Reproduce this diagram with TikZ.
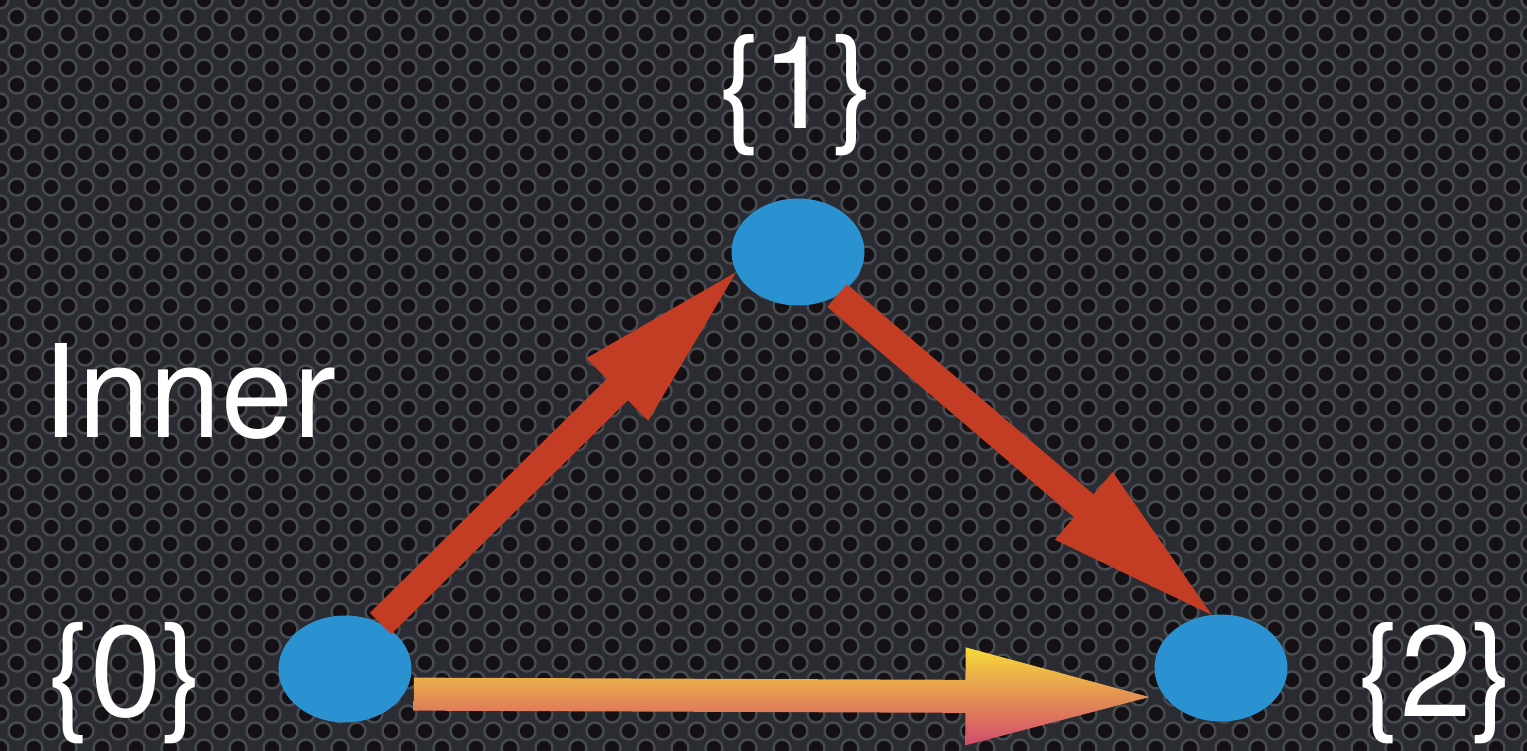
\documentclass[tikz,border=0pt]{standalone}
\usepackage{fontspec}
\setmainfont{TeX Gyre Heros}
\usetikzlibrary{shapes.geometric,calc}
\definecolor{plate}{HTML}{2A2C31}
\definecolor{ring}{HTML}{464A51}
\definecolor{hole}{HTML}{141013}
\definecolor{nodeblue}{HTML}{2A92D0}
\definecolor{arrowred}{HTML}{C33D25}
\definecolor{warmyellow}{HTML}{F6DA3A}
\definecolor{warmorange}{HTML}{E9A04E}
\definecolor{warmpink}{HTML}{D24A6C}
% fat arrow: style, tail, tip, shaft half width, head length, head half width
\newcommand{\fatarrow}[6]{%
  \coordinate (fa-b) at ($(#3)!#5!(#2)$);
  \path[#1] ($(#2)!#4!90:(#3)$) -- ($(fa-b)!#4!90:(#3)$) -- ($(fa-b)!#6!90:(#3)$)
    -- (#3) -- ($(fa-b)!#6!-90:(#3)$) -- ($(fa-b)!#4!-90:(#3)$) -- ($(#2)!#4!-90:(#3)$) -- cycle;}
\begin{document}
\begin{tikzpicture}[x=1pt,y=-1pt,
  vertex/.style={ellipse,fill=nodeblue,minimum width=133pt,minimum height=107pt,inner sep=0pt},
  setlabel/.style={text=white,font=\fontsize{129}{129}\selectfont,anchor=base,inner sep=0pt},
  redfill/.style={fill=arrowred},
  warmfill/.style={shade,top color=warmyellow,middle color=warmorange,bottom color=warmpink}]
  \useasboundingbox (0,0) rectangle (1527,751);
  \fill[plate] (0,0) rectangle (1527,751);
  % perforated plate
  \begin{scope}
    \clip (0,0) rectangle (1527,751);
    \foreach \i in {0,...,45}{
      \foreach \j in {0,...,45}{
        \pgfmathsetmacro\yy{17*\j}
        \pgfmathsetmacro\xx{34*\i+mod(\j,2)*17}
        \draw[ring,line width=2.5pt,fill=hole] (\xx,\yy) circle (8.5pt);
      }}
  \end{scope}
  % the three sets
  \node[vertex] (n1) at (798,252) {};
  \node[vertex] (n0) at (345,669) {};
  \node[vertex] (n2) at (1221,668) {};
  % arrows
  \fatarrow{redfill}{n0.52}{n1.198}{15pt}{167pt}{44pt}
  \fatarrow{redfill}{n1.-48}{n2.100}{15pt}{168pt}{44.5pt}
  \coordinate (w0) at ($(n0.-20)+(8,3)$);
  \coordinate (w2) at ($(n2.202)+(-12,5)$);
  \fatarrow{warmfill}{w0}{w2}{16.5pt}{184pt}{49pt}
  % labels
  \node[setlabel] (l1) at (797,129) {\{1\}};
  \node[setlabel,anchor=base west] (inner) at (42,438) {Inner};
  \node[setlabel] (l0) at (126,716) {\{0\}};
  \node[setlabel] (l2) at (1436,716) {\{2\}};
\end{tikzpicture}
\end{document}
